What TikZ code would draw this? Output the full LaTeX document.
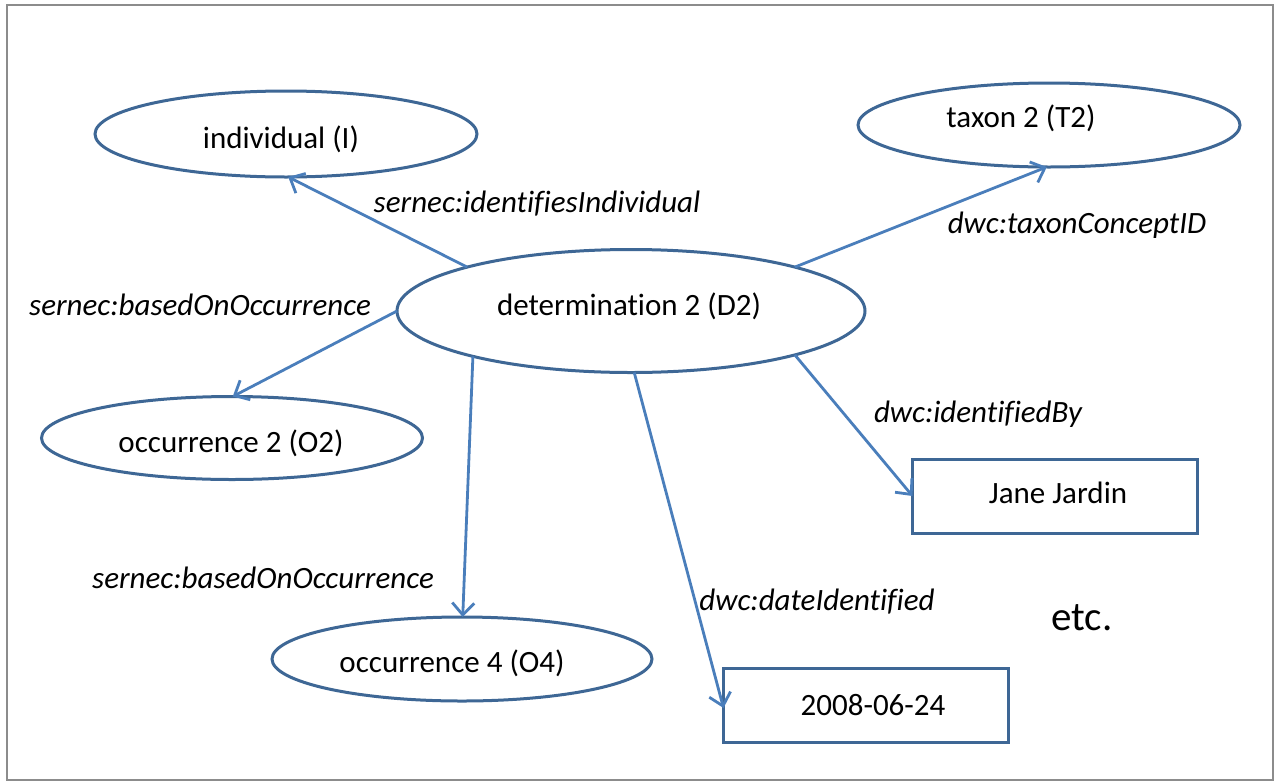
\documentclass[tikz,border=0pt]{standalone}
\usepackage{fontspec}
\setmainfont{Carlito}[Ligatures=NoCommon]
\usetikzlibrary{shapes.geometric,arrows.meta}
\definecolor{shapeline}{HTML}{3E6795}
\definecolor{arrowline}{HTML}{4A7EBB}
\definecolor{framegray}{HTML}{8C8C8C}
\begin{document}
\begin{tikzpicture}[x=1pt,y=-1pt,
  concept/.style={ellipse,draw=shapeline,line width=3pt,fill=white,inner sep=0pt,outer sep=0pt},
  literal/.style={rectangle,draw=shapeline,line width=3pt,fill=white,inner sep=0pt,outer sep=0pt,
    minimum width=285pt,minimum height=74pt},
  nodetext/.style={anchor=base,inner sep=0pt,font=\fontsize{31}{37}\selectfont},
  proplabel/.style={anchor=base,inner sep=0pt,font=\fontsize{31}{37}\selectfont\itshape},
  rel/.style={draw=arrowline,line width=2.8pt,-{Straight Barb[length=12pt,width=22pt]}}]
\useasboundingbox (0,0) rectangle (1276,782);
% outer frame
\draw[framegray,line width=2pt] (7,5) rectangle (1273,780);

% resource nodes
\node[concept,minimum width=382pt,minimum height=86pt] (I)  at (286,134) {};
\node[concept,minimum width=382pt,minimum height=84pt] (T2) at (1049,125) {};
\node[concept,minimum width=468pt,minimum height=123pt] (D2) at (631,311) {};
\node[concept,minimum width=381pt,minimum height=83pt] (O2) at (232,438) {};
\node[concept,minimum width=380pt,minimum height=84pt] (O4) at (462,659) {};
\node[literal] (jane) at (1055,496) {};
\node[literal] (date) at (866,705) {};

% node captions
\node[nodetext] (tI)    at (281,148) {individual (I)};
\node[nodetext] (tT2)   at (1021,127) {taxon 2 (T2)};
\node[nodetext] (tD2)   at (629,315) {determination 2 (D2)};
\node[nodetext] (tO2)   at (231,452) {occurrence 2 (O2)};
\node[nodetext] (tO4)   at (452,672) {occurrence 4 (O4)};
\node[nodetext] (tjane) at (1058,503) {Jane Jardin};
\node[nodetext] (tdate) at (873,715) {2008-06-24};

% properties
\draw[rel] (D2.165)  -- (I.273);
\draw[rel] (D2.15)   -- (T2.267);
\draw[rel] (D2.180.5) -- (O2.89);
\draw[rel] (D2.196)  -- (O4.89);
\draw[rel] (D2.273.6) -- ([yshift=-3pt]date.west);
\draw[rel] (D2.-15.3) -- (jane.west);

% property labels
\node[proplabel] (lI)    at (537,212) {sernec:identifiesIndividual};
\node[proplabel] (lT2)   at (1077,233) {dwc:taxonConceptID};
\node[proplabel] (lO2)   at (200,315) {sernec:basedOnOccurrence};
\node[proplabel] (ljane) at (978,422) {dwc:identifiedBy};
\node[proplabel] (lO4)   at (263,588) {sernec:basedOnOccurrence};
\node[proplabel] (ldate) at (817,610) {dwc:dateIdentified};
\node[anchor=base,inner sep=0pt,font=\fontsize{41}{48}\selectfont] (etc) at (1082,630) {etc.};
\end{tikzpicture}
\end{document}
